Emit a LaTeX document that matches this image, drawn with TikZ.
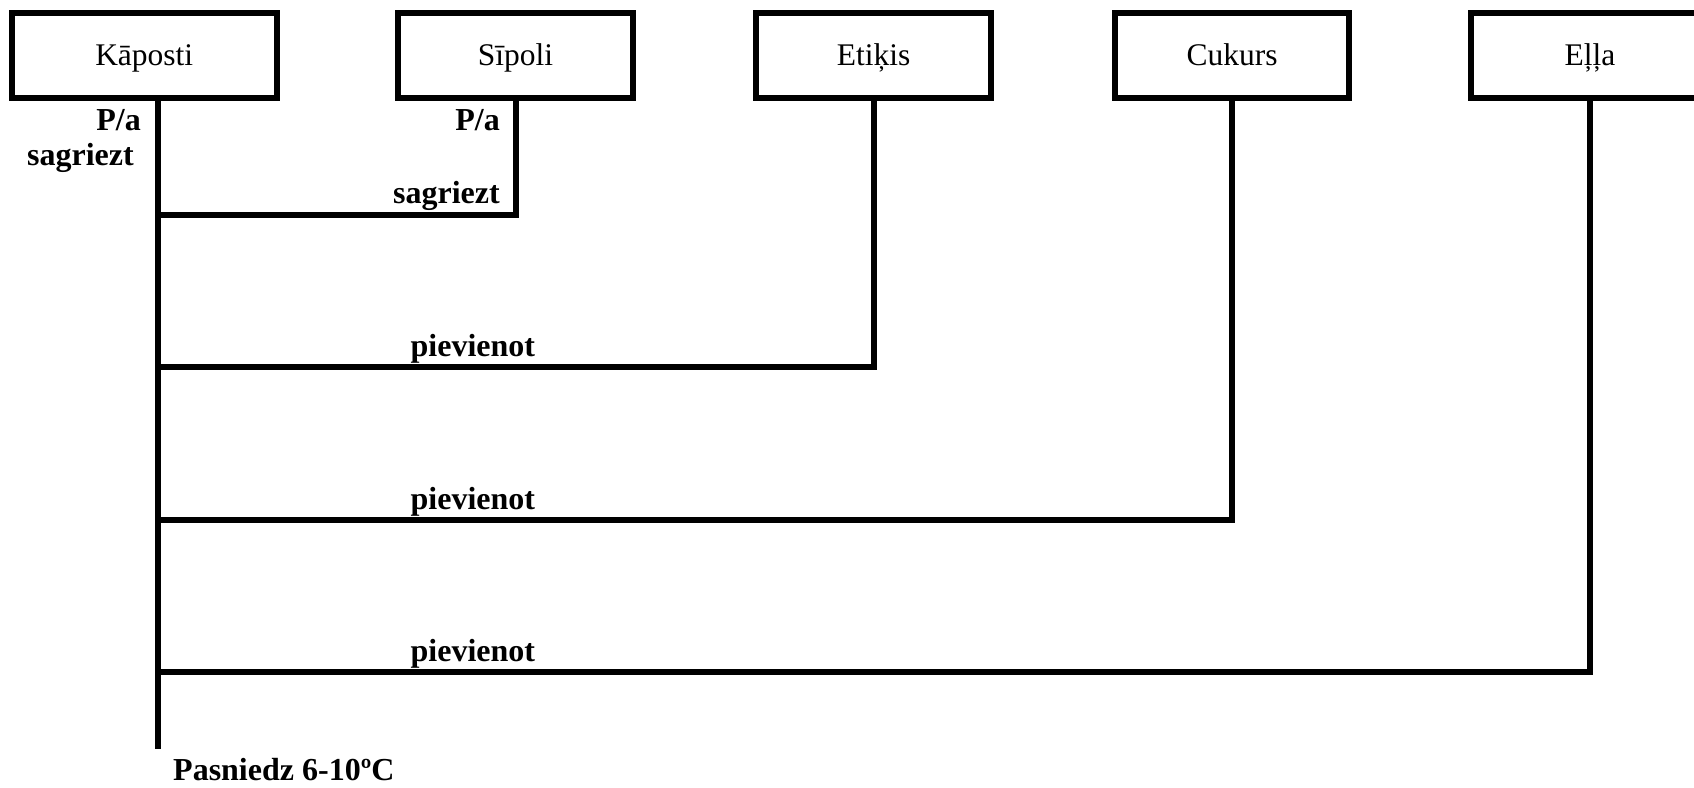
\documentclass[tikz,border=0pt]{standalone}
\usepackage{fontspec}
\setmainfont{Liberation Serif}
\begin{document}
\begin{tikzpicture}[x=1pt,y=-1pt,
  box/.style={draw, line width=6pt, minimum height=85pt, inner sep=0pt, text height=20.5pt, text depth=0pt, font=\fontsize{31.5}{36}\selectfont},
  lbl/.style={font=\fontsize{32}{36}\selectfont\bfseries, inner sep=0pt},
  conn/.style={line width=6pt}]
\useasboundingbox (0,0) rectangle (1694,787);
% boxes
\node[box, minimum width=264.5pt] (K) at (144.25,55) {Kāposti};
\node[box, minimum width=235pt] (S) at (515.5,55) {Sīpoli};
\node[box, minimum width=235pt] (E) at (873.5,55) {Etiķis};
\node[box, minimum width=234pt] (C) at (1232,55) {Cukurs};
\node[box, minimum width=238pt] (O) at (1590,55) {Eļļa};
% junction coordinates on the main line
\coordinate (kb) at ([xshift=13.5pt]K.south);
\coordinate (m1) at (kb |- 0,215);
\coordinate (m2) at (kb |- 0,367);
\coordinate (m3) at (kb |- 0,519.5);
\coordinate (m4) at (kb |- 0,672);
\coordinate (mend) at (kb |- 0,749);
% connectors
\draw[conn] (kb) -- (mend);
\draw[conn] (S.south) |- (m1);
\draw[conn] (E.south) |- (m2);
\draw[conn] (C.south) |- (m3);
\draw[conn] (O.south) |- (m4);
% labels
\node[lbl, anchor=base east] (kpa) at (141,130) {P/a};
\node[lbl, anchor=base east] (ksa) at (134,165) {sagriezt};
\node[lbl, anchor=base east] (spa) at (500,130) {P/a};
\node[lbl, anchor=base east] (ssa) at (500,203) {sagriezt};
\node[lbl, anchor=base west] (p1) at (410.5,356.5) {pievienot};
\node[lbl, anchor=base west] (p2) at (410.5,509) {pievienot};
\node[lbl, anchor=base west] (p3) at (410.5,661.5) {pievienot};
\node[lbl, anchor=base west] (pas) at (173,780) {Pasniedz 6-10ºC};
\end{tikzpicture}
\end{document}
